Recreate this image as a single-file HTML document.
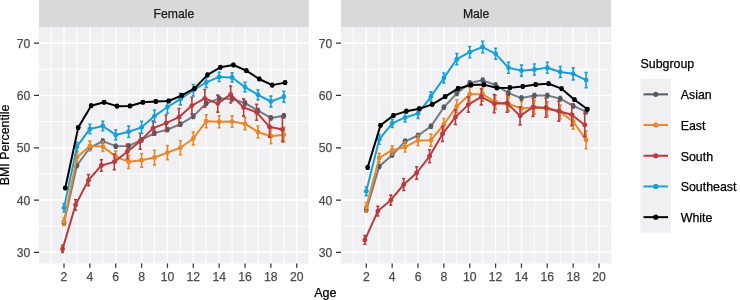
<!DOCTYPE html><html><head><meta charset="utf-8"><title>BMI Percentile by Age</title>
<style>html,body{margin:0;padding:0;background:#fff;}svg{display:block;will-change:transform;}text{font-family:"Liberation Sans",sans-serif;stroke-width:0.25px;}</style></head><body>
<svg width="740" height="300" viewBox="0 0 740 300">
<rect x="0" y="0" width="740" height="300" fill="#ffffff"/>
<rect x="39" y="0" width="269.8" height="27.3" fill="#d9d9d9"/>
<rect x="39" y="27.3" width="269.8" height="236.2" fill="#f0f0f2"/>
<path d="M39 226.16H308.8M39 173.89H308.8M39 121.61H308.8M39 69.34H308.8M51.07 27.3V263.5M76.93 27.3V263.5M102.79 27.3V263.5M128.65 27.3V263.5M154.51 27.3V263.5M180.37 27.3V263.5M206.23 27.3V263.5M232.09 27.3V263.5M257.95 27.3V263.5M283.81 27.3V263.5" stroke="#ffffff" stroke-width="0.9" fill="none"/>
<path d="M39 252.3H308.8M39 200.03H308.8M39 147.75H308.8M39 95.48H308.8M39 43.2H308.8M64 27.3V263.5M89.86 27.3V263.5M115.72 27.3V263.5M141.58 27.3V263.5M167.44 27.3V263.5M193.3 27.3V263.5M219.16 27.3V263.5M245.02 27.3V263.5M270.88 27.3V263.5M296.74 27.3V263.5" stroke="#ffffff" stroke-width="1.4" fill="none"/>
<path d="M64 221.03V225.03M62.4 221.03H65.6M62.4 225.03H65.6M76.93 163.52V167.52M75.33 163.52H78.53M75.33 167.52H78.53M89.86 145.75V149.75M88.26 145.75H91.46M88.26 149.75H91.46M102.79 139.11V143.11M101.19 139.11H104.39M101.19 143.11H104.39M115.72 144.18V148.18M114.12 144.18H117.32M114.12 148.18H117.32M128.65 144.02V148.02M127.05 144.02H130.25M127.05 148.02H130.25M141.58 137.91V141.91M139.98 137.91H143.18M139.98 141.91H143.18M154.51 131.11V135.11M152.91 131.11H156.11M152.91 135.11H156.11M167.44 127.45V131.45M165.84 127.45H169.04M165.84 131.45H169.04M180.37 122.23V126.23M178.77 122.23H181.97M178.77 126.23H181.97M193.3 114.39V118.39M191.7 114.39H194.9M191.7 118.39H194.9M206.23 101.32V105.32M204.63 101.32H207.83M204.63 105.32H207.83M219.16 96.61V100.61M217.56 96.61H220.76M217.56 100.61H220.76M232.09 96.87V100.87M230.49 96.87H233.69M230.49 100.87H233.69M245.02 101.11V105.11M243.42 101.11H246.62M243.42 105.11H246.62M257.95 108.63V112.63M256.35 108.63H259.55M256.35 112.63H259.55M270.88 115.95V119.95M269.28 115.95H272.48M269.28 119.95H272.48M283.81 113.86V117.86M282.21 113.86H285.41M282.21 117.86H285.41" stroke="#505b64" stroke-width="1.6" fill="none"/>
<path d="M64 223.03 L76.93 165.52 L89.86 147.75 L102.79 141.11 L115.72 146.18 L128.65 146.02 L141.58 139.91 L154.51 133.11 L167.44 129.45 L180.37 124.23 L193.3 116.39 L206.23 103.32 L219.16 98.61 L232.09 98.87 L245.02 103.11 L257.95 110.63 L270.88 117.95 L283.81 115.86" stroke="#727c84" stroke-width="2" fill="none" stroke-linejoin="round"/>
<circle cx="64" cy="223.03" r="2.45" fill="#505b64"/>
<circle cx="76.93" cy="165.52" r="2.45" fill="#505b64"/>
<circle cx="89.86" cy="147.75" r="2.45" fill="#505b64"/>
<circle cx="102.79" cy="141.11" r="2.45" fill="#505b64"/>
<circle cx="115.72" cy="146.18" r="2.45" fill="#505b64"/>
<circle cx="128.65" cy="146.02" r="2.45" fill="#505b64"/>
<circle cx="141.58" cy="139.91" r="2.45" fill="#505b64"/>
<circle cx="154.51" cy="133.11" r="2.45" fill="#505b64"/>
<circle cx="167.44" cy="129.45" r="2.45" fill="#505b64"/>
<circle cx="180.37" cy="124.23" r="2.45" fill="#505b64"/>
<circle cx="193.3" cy="116.39" r="2.45" fill="#505b64"/>
<circle cx="206.23" cy="103.32" r="2.45" fill="#505b64"/>
<circle cx="219.16" cy="98.61" r="2.45" fill="#505b64"/>
<circle cx="232.09" cy="98.87" r="2.45" fill="#505b64"/>
<circle cx="245.02" cy="103.11" r="2.45" fill="#505b64"/>
<circle cx="257.95" cy="110.63" r="2.45" fill="#505b64"/>
<circle cx="270.88" cy="117.95" r="2.45" fill="#505b64"/>
<circle cx="283.81" cy="115.86" r="2.45" fill="#505b64"/>
<path d="M64 217.46V225.46M62.4 217.46H65.6M62.4 225.46H65.6M76.93 152.66V161.66M75.33 152.66H78.53M75.33 161.66H78.53M89.86 141.12V150.92M88.26 141.12H91.46M88.26 150.92H91.46M102.79 141.6V151.4M101.19 141.6H104.39M101.19 151.4H104.39M115.72 151.14V162.14M114.12 151.14H117.32M114.12 162.14H117.32M128.65 155.36V168.36M127.05 155.36H130.25M127.05 168.36H130.25M141.58 153.5V167.1M139.98 153.5H143.18M139.98 167.1H143.18M154.51 150.23V164.83M152.91 150.23H156.11M152.91 164.83H156.11M167.44 145.61V159.61M165.84 145.61H169.04M165.84 159.61H169.04M180.37 140.75V154.75M178.77 140.75H181.97M178.77 154.75H181.97M193.3 132V145M191.7 132H194.9M191.7 145H194.9M206.23 114.8V127.8M204.63 114.8H207.83M204.63 127.8H207.83M219.16 115.82V127.82M217.56 115.82H220.76M217.56 127.82H220.76M232.09 115.91V127.31M230.49 115.91H233.69M230.49 127.31H233.69M245.02 117.8V129.6M243.42 117.8H246.62M243.42 129.6H246.62M257.95 126.07V138.07M256.35 126.07H259.55M256.35 138.07H259.55M270.88 128.75V143.75M269.28 128.75H272.48M269.28 143.75H272.48M283.81 127.38V141.98M282.21 127.38H285.41M282.21 141.98H285.41" stroke="#e9872b" stroke-width="1.6" fill="none"/>
<path d="M64 221.46 L76.93 157.16 L89.86 146.02 L102.79 146.5 L115.72 156.64 L128.65 161.86 L141.58 160.3 L154.51 157.53 L167.44 152.61 L180.37 147.75 L193.3 138.5 L206.23 121.3 L219.16 121.82 L232.09 121.61 L245.02 123.7 L257.95 132.07 L270.88 136.25 L283.81 134.68" stroke="#e9872b" stroke-width="2" fill="none" stroke-linejoin="round"/>
<circle cx="64" cy="221.46" r="2.45" fill="#e9872b"/>
<circle cx="76.93" cy="157.16" r="2.45" fill="#e9872b"/>
<circle cx="89.86" cy="146.02" r="2.45" fill="#e9872b"/>
<circle cx="102.79" cy="146.5" r="2.45" fill="#e9872b"/>
<circle cx="115.72" cy="156.64" r="2.45" fill="#e9872b"/>
<circle cx="128.65" cy="161.86" r="2.45" fill="#e9872b"/>
<circle cx="141.58" cy="160.3" r="2.45" fill="#e9872b"/>
<circle cx="154.51" cy="157.53" r="2.45" fill="#e9872b"/>
<circle cx="167.44" cy="152.61" r="2.45" fill="#e9872b"/>
<circle cx="180.37" cy="147.75" r="2.45" fill="#e9872b"/>
<circle cx="193.3" cy="138.5" r="2.45" fill="#e9872b"/>
<circle cx="206.23" cy="121.3" r="2.45" fill="#e9872b"/>
<circle cx="219.16" cy="121.82" r="2.45" fill="#e9872b"/>
<circle cx="232.09" cy="121.61" r="2.45" fill="#e9872b"/>
<circle cx="245.02" cy="123.7" r="2.45" fill="#e9872b"/>
<circle cx="257.95" cy="132.07" r="2.45" fill="#e9872b"/>
<circle cx="270.88" cy="136.25" r="2.45" fill="#e9872b"/>
<circle cx="283.81" cy="134.68" r="2.45" fill="#e9872b"/>
<path d="M62.6 245.4V252.4M61 245.4H64.2M61 252.4H64.2M75.53 199.79V210.19M73.93 199.79H77.13M73.93 210.19H77.13M88.46 174.66V185.66M86.86 174.66H90.06M86.86 185.66H90.06M101.39 159.82V171.22M99.79 159.82H102.99M99.79 171.22H102.99M114.32 154.06V169.66M112.72 154.06H115.92M112.72 169.66H115.92M127.25 144.37V158.97M125.65 144.37H128.85M125.65 158.97H128.85M140.18 133.22V149.22M138.58 133.22H141.78M138.58 149.22H141.78M153.11 121.15V135.15M151.51 121.15H154.71M151.51 135.15H154.71M166.04 114.98V131.38M164.44 114.98H167.64M164.44 131.38H167.64M178.97 108.57V125.77M177.37 108.57H180.57M177.37 125.77H180.57M191.9 97.22V114.02M190.3 97.22H193.5M190.3 114.02H193.5M204.83 89.55V107.15M203.23 89.55H206.43M203.23 107.15H206.43M217.76 95.08V112.08M216.16 95.08H219.36M216.16 112.08H219.36M230.69 85.93V102.93M229.09 85.93H232.29M229.09 102.93H232.29M243.62 98.9V116.1M242.02 98.9H245.22M242.02 116.1H245.22M256.55 104.2V120.2M254.95 104.2H258.15M254.95 120.2H258.15M269.48 116.54V137.14M267.88 116.54H271.08M267.88 137.14H271.08M282.41 117.45V141.45M280.81 117.45H284.01M280.81 141.45H284.01" stroke="#b83c3f" stroke-width="1.6" fill="none"/>
<path d="M62.6 248.9 L75.53 204.99 L88.46 180.16 L101.39 165.52 L114.32 161.86 L127.25 151.67 L140.18 141.22 L153.11 128.15 L166.04 123.18 L178.97 117.17 L191.9 105.62 L204.83 98.35 L217.76 103.58 L230.69 94.43 L243.62 107.5 L256.55 112.2 L269.48 126.84 L282.41 129.45" stroke="#b83c3f" stroke-width="2" fill="none" stroke-linejoin="round"/>
<circle cx="62.6" cy="248.9" r="2.45" fill="#b83c3f"/>
<circle cx="75.53" cy="204.99" r="2.45" fill="#b83c3f"/>
<circle cx="88.46" cy="180.16" r="2.45" fill="#b83c3f"/>
<circle cx="101.39" cy="165.52" r="2.45" fill="#b83c3f"/>
<circle cx="114.32" cy="161.86" r="2.45" fill="#b83c3f"/>
<circle cx="127.25" cy="151.67" r="2.45" fill="#b83c3f"/>
<circle cx="140.18" cy="141.22" r="2.45" fill="#b83c3f"/>
<circle cx="153.11" cy="128.15" r="2.45" fill="#b83c3f"/>
<circle cx="166.04" cy="123.18" r="2.45" fill="#b83c3f"/>
<circle cx="178.97" cy="117.17" r="2.45" fill="#b83c3f"/>
<circle cx="191.9" cy="105.62" r="2.45" fill="#b83c3f"/>
<circle cx="204.83" cy="98.35" r="2.45" fill="#b83c3f"/>
<circle cx="217.76" cy="103.58" r="2.45" fill="#b83c3f"/>
<circle cx="230.69" cy="94.43" r="2.45" fill="#b83c3f"/>
<circle cx="243.62" cy="107.5" r="2.45" fill="#b83c3f"/>
<circle cx="256.55" cy="112.2" r="2.45" fill="#b83c3f"/>
<circle cx="269.48" cy="126.84" r="2.45" fill="#b83c3f"/>
<circle cx="282.41" cy="129.45" r="2.45" fill="#b83c3f"/>
<path d="M64 203.67V212.07M62.4 203.67H65.6M62.4 212.07H65.6M76.93 142.2V151.2M75.33 142.2H78.53M75.33 151.2H78.53M89.86 124.18V133.68M88.26 124.18H91.46M88.26 133.68H91.46M102.79 121.36V130.76M101.19 121.36H104.39M101.19 130.76H104.39M115.72 130.04V139.84M114.12 130.04H117.32M114.12 139.84H117.32M128.65 126.11V137.51M127.05 126.11H130.25M127.05 137.51H130.25M141.58 121.36V133.36M139.98 121.36H143.18M139.98 133.36H143.18M154.51 110.12V122.12M152.91 110.12H156.11M152.91 122.12H156.11M167.44 100.78V113.18M165.84 100.78H169.04M165.84 113.18H169.04M180.37 93.38V104.88M178.77 93.38H181.97M178.77 104.88H181.97M193.3 84.5V96M191.7 84.5H194.9M191.7 96H194.9M206.23 77.41V87.41M204.63 77.41H207.83M204.63 87.41H207.83M219.16 72.32V81.52M217.56 72.32H220.76M217.56 81.52H220.76M232.09 72.84V82.04M230.49 72.84H233.69M230.49 82.04H233.69M245.02 82.21V92.01M243.42 82.21H246.62M243.42 92.01H246.62M257.95 89.7V99.9M256.35 89.7H259.55M256.35 99.9H259.55M270.88 96.09V106.89M269.28 96.09H272.48M269.28 106.89H272.48M283.81 91.28V102.08M282.21 91.28H285.41M282.21 102.08H285.41" stroke="#18a0d5" stroke-width="1.6" fill="none"/>
<path d="M64 207.87 L76.93 146.7 L89.86 128.93 L102.79 126.06 L115.72 134.94 L128.65 131.81 L141.58 127.36 L154.51 116.12 L167.44 106.98 L180.37 99.13 L193.3 90.25 L206.23 82.41 L219.16 76.92 L232.09 77.44 L245.02 87.11 L257.95 94.8 L270.88 101.49 L283.81 96.68" stroke="#18a0d5" stroke-width="2" fill="none" stroke-linejoin="round"/>
<circle cx="64" cy="207.87" r="2.45" fill="#18a0d5"/>
<circle cx="76.93" cy="146.7" r="2.45" fill="#18a0d5"/>
<circle cx="89.86" cy="128.93" r="2.45" fill="#18a0d5"/>
<circle cx="102.79" cy="126.06" r="2.45" fill="#18a0d5"/>
<circle cx="115.72" cy="134.94" r="2.45" fill="#18a0d5"/>
<circle cx="128.65" cy="131.81" r="2.45" fill="#18a0d5"/>
<circle cx="141.58" cy="127.36" r="2.45" fill="#18a0d5"/>
<circle cx="154.51" cy="116.12" r="2.45" fill="#18a0d5"/>
<circle cx="167.44" cy="106.98" r="2.45" fill="#18a0d5"/>
<circle cx="180.37" cy="99.13" r="2.45" fill="#18a0d5"/>
<circle cx="193.3" cy="90.25" r="2.45" fill="#18a0d5"/>
<circle cx="206.23" cy="82.41" r="2.45" fill="#18a0d5"/>
<circle cx="219.16" cy="76.92" r="2.45" fill="#18a0d5"/>
<circle cx="232.09" cy="77.44" r="2.45" fill="#18a0d5"/>
<circle cx="245.02" cy="87.11" r="2.45" fill="#18a0d5"/>
<circle cx="257.95" cy="94.8" r="2.45" fill="#18a0d5"/>
<circle cx="270.88" cy="101.49" r="2.45" fill="#18a0d5"/>
<circle cx="283.81" cy="96.68" r="2.45" fill="#18a0d5"/>
<path d="M65.3 186.5V189.5M63.7 186.5H66.9M63.7 189.5H66.9M78.23 126.12V129.12M76.63 126.12H79.83M76.63 129.12H79.83M91.16 104.22V107.22M89.56 104.22H92.76M89.56 107.22H92.76M104.09 100.77V103.77M102.49 100.77H105.69M102.49 103.77H105.69M117.02 104.64V107.64M115.42 104.64H118.62M115.42 107.64H118.62M129.95 104.43V107.43M128.35 104.43H131.55M128.35 107.43H131.55M142.88 100.77V103.77M141.28 100.77H144.48M141.28 103.77H144.48M155.81 99.99V102.99M154.21 99.99H157.41M154.21 102.99H157.41M168.74 99.46V102.46M167.14 99.46H170.34M167.14 102.46H170.34M181.67 93.98V96.98M180.07 93.98H183.27M180.07 96.98H183.27M194.6 86.92V89.92M193 86.92H196.2M193 89.92H196.2M207.53 73.33V76.33M205.93 73.33H209.13M205.93 76.33H209.13M220.46 65.75V68.75M218.86 65.75H222.06M218.86 68.75H222.06M233.39 63.5V66.5M231.79 63.5H234.99M231.79 66.5H234.99M246.32 69.2V72.2M244.72 69.2H247.92M244.72 72.2H247.92M259.25 77.51V80.51M257.65 77.51H260.85M257.65 80.51H260.85M272.18 83.62V86.62M270.58 83.62H273.78M270.58 86.62H273.78M285.11 81.12V84.12M283.51 81.12H286.71M283.51 84.12H286.71" stroke="#000000" stroke-width="1.6" fill="none"/>
<path d="M65.3 188 L78.23 127.62 L91.16 105.72 L104.09 102.27 L117.02 106.14 L129.95 105.93 L142.88 102.27 L155.81 101.49 L168.74 100.96 L181.67 95.48 L194.6 88.42 L207.53 74.83 L220.46 67.25 L233.39 65 L246.32 70.7 L259.25 79.01 L272.18 85.12 L285.11 82.62" stroke="#000000" stroke-width="2" fill="none" stroke-linejoin="round"/>
<circle cx="65.3" cy="188" r="2.45" fill="#000000"/>
<circle cx="78.23" cy="127.62" r="2.45" fill="#000000"/>
<circle cx="91.16" cy="105.72" r="2.45" fill="#000000"/>
<circle cx="104.09" cy="102.27" r="2.45" fill="#000000"/>
<circle cx="117.02" cy="106.14" r="2.45" fill="#000000"/>
<circle cx="129.95" cy="105.93" r="2.45" fill="#000000"/>
<circle cx="142.88" cy="102.27" r="2.45" fill="#000000"/>
<circle cx="155.81" cy="101.49" r="2.45" fill="#000000"/>
<circle cx="168.74" cy="100.96" r="2.45" fill="#000000"/>
<circle cx="181.67" cy="95.48" r="2.45" fill="#000000"/>
<circle cx="194.6" cy="88.42" r="2.45" fill="#000000"/>
<circle cx="207.53" cy="74.83" r="2.45" fill="#000000"/>
<circle cx="220.46" cy="67.25" r="2.45" fill="#000000"/>
<circle cx="233.39" cy="65" r="2.45" fill="#000000"/>
<circle cx="246.32" cy="70.7" r="2.45" fill="#000000"/>
<circle cx="259.25" cy="79.01" r="2.45" fill="#000000"/>
<circle cx="272.18" cy="85.12" r="2.45" fill="#000000"/>
<circle cx="285.11" cy="82.62" r="2.45" fill="#000000"/>
<text x="173.9" y="18" font-size="12.2" fill="#1a1a1a" stroke="#1a1a1a" text-anchor="middle">Female</text>
<text x="30.3" y="256.8" font-size="12.2" fill="#4d4d4d" stroke="#4d4d4d" text-anchor="end">30</text>
<text x="30.3" y="204.53" font-size="12.2" fill="#4d4d4d" stroke="#4d4d4d" text-anchor="end">40</text>
<text x="30.3" y="152.25" font-size="12.2" fill="#4d4d4d" stroke="#4d4d4d" text-anchor="end">50</text>
<text x="30.3" y="99.98" font-size="12.2" fill="#4d4d4d" stroke="#4d4d4d" text-anchor="end">60</text>
<text x="30.3" y="47.7" font-size="12.2" fill="#4d4d4d" stroke="#4d4d4d" text-anchor="end">70</text>
<text x="64" y="280.7" font-size="12.2" fill="#4d4d4d" stroke="#4d4d4d" text-anchor="middle">2</text>
<text x="89.86" y="280.7" font-size="12.2" fill="#4d4d4d" stroke="#4d4d4d" text-anchor="middle">4</text>
<text x="115.72" y="280.7" font-size="12.2" fill="#4d4d4d" stroke="#4d4d4d" text-anchor="middle">6</text>
<text x="141.58" y="280.7" font-size="12.2" fill="#4d4d4d" stroke="#4d4d4d" text-anchor="middle">8</text>
<text x="167.44" y="280.7" font-size="12.2" fill="#4d4d4d" stroke="#4d4d4d" text-anchor="middle">10</text>
<text x="193.3" y="280.7" font-size="12.2" fill="#4d4d4d" stroke="#4d4d4d" text-anchor="middle">12</text>
<text x="219.16" y="280.7" font-size="12.2" fill="#4d4d4d" stroke="#4d4d4d" text-anchor="middle">14</text>
<text x="245.02" y="280.7" font-size="12.2" fill="#4d4d4d" stroke="#4d4d4d" text-anchor="middle">16</text>
<text x="270.88" y="280.7" font-size="12.2" fill="#4d4d4d" stroke="#4d4d4d" text-anchor="middle">18</text>
<text x="296.74" y="280.7" font-size="12.2" fill="#4d4d4d" stroke="#4d4d4d" text-anchor="middle">20</text>
<path d="M34 252.3H39M34 200.03H39M34 147.75H39M34 95.48H39M34 43.2H39M64 263.5V267.7M89.86 263.5V267.7M115.72 263.5V267.7M141.58 263.5V267.7M167.44 263.5V267.7M193.3 263.5V267.7M219.16 263.5V267.7M245.02 263.5V267.7M270.88 263.5V267.7M296.74 263.5V267.7" stroke="#333333" stroke-width="1.25" fill="none"/>
<rect x="341" y="0" width="270.2" height="27.3" fill="#d9d9d9"/>
<rect x="341" y="27.3" width="270.2" height="236.2" fill="#f0f0f2"/>
<path d="M341 226.16H611.2M341 173.89H611.2M341 121.61H611.2M341 69.34H611.2M353.37 27.3V263.5M379.23 27.3V263.5M405.09 27.3V263.5M430.95 27.3V263.5M456.81 27.3V263.5M482.67 27.3V263.5M508.53 27.3V263.5M534.39 27.3V263.5M560.25 27.3V263.5M586.11 27.3V263.5" stroke="#ffffff" stroke-width="0.9" fill="none"/>
<path d="M341 252.3H611.2M341 200.03H611.2M341 147.75H611.2M341 95.48H611.2M341 43.2H611.2M366.3 27.3V263.5M392.16 27.3V263.5M418.02 27.3V263.5M443.88 27.3V263.5M469.74 27.3V263.5M495.6 27.3V263.5M521.46 27.3V263.5M547.32 27.3V263.5M573.18 27.3V263.5M599.04 27.3V263.5" stroke="#ffffff" stroke-width="1.4" fill="none"/>
<path d="M366.3 207.96V211.96M364.7 207.96H367.9M364.7 211.96H367.9M379.23 164.57V168.57M377.63 164.57H380.83M377.63 168.57H380.83M392.16 153.07V157.07M390.56 153.07H393.76M390.56 157.07H393.76M405.09 139.32V143.32M403.49 139.32H406.69M403.49 143.32H406.69M418.02 133.47V137.47M416.42 133.47H419.62M416.42 137.47H419.62M430.95 124.32V128.32M429.35 124.32H432.55M429.35 128.32H432.55M443.88 105.29V109.29M442.28 105.29H445.48M442.28 109.29H445.48M456.81 91.38V95.38M455.21 91.38H458.41M455.21 95.38H458.41M469.74 80.93V84.93M468.14 80.93H471.34M468.14 84.93H471.34M482.67 78.32V82.32M481.07 78.32H484.27M481.07 82.32H484.27M495.6 83.02V87.02M494 83.02H497.2M494 87.02H497.2M508.53 91.12V95.12M506.93 91.12H510.13M506.93 95.12H510.13M521.46 96.09V100.09M519.86 96.09H523.06M519.86 100.09H523.06M534.39 93.48V97.48M532.79 93.48H535.99M532.79 97.48H535.99M547.32 93.48V97.48M545.72 93.48H548.92M545.72 97.48H548.92M560.25 96.61V100.61M558.65 96.61H561.85M558.65 100.61H561.85M573.18 103.93V107.93M571.58 103.93H574.78M571.58 107.93H574.78M586.11 109.68V113.68M584.51 109.68H587.71M584.51 113.68H587.71" stroke="#505b64" stroke-width="1.6" fill="none"/>
<path d="M366.3 209.96 L379.23 166.57 L392.16 155.07 L405.09 141.32 L418.02 135.47 L430.95 126.32 L443.88 107.29 L456.81 93.38 L469.74 82.93 L482.67 80.32 L495.6 85.02 L508.53 93.12 L521.46 98.09 L534.39 95.48 L547.32 95.48 L560.25 98.61 L573.18 105.93 L586.11 111.68" stroke="#727c84" stroke-width="2" fill="none" stroke-linejoin="round"/>
<circle cx="366.3" cy="209.96" r="2.45" fill="#505b64"/>
<circle cx="379.23" cy="166.57" r="2.45" fill="#505b64"/>
<circle cx="392.16" cy="155.07" r="2.45" fill="#505b64"/>
<circle cx="405.09" cy="141.32" r="2.45" fill="#505b64"/>
<circle cx="418.02" cy="135.47" r="2.45" fill="#505b64"/>
<circle cx="430.95" cy="126.32" r="2.45" fill="#505b64"/>
<circle cx="443.88" cy="107.29" r="2.45" fill="#505b64"/>
<circle cx="456.81" cy="93.38" r="2.45" fill="#505b64"/>
<circle cx="469.74" cy="82.93" r="2.45" fill="#505b64"/>
<circle cx="482.67" cy="80.32" r="2.45" fill="#505b64"/>
<circle cx="495.6" cy="85.02" r="2.45" fill="#505b64"/>
<circle cx="508.53" cy="93.12" r="2.45" fill="#505b64"/>
<circle cx="521.46" cy="98.09" r="2.45" fill="#505b64"/>
<circle cx="534.39" cy="95.48" r="2.45" fill="#505b64"/>
<circle cx="547.32" cy="95.48" r="2.45" fill="#505b64"/>
<circle cx="560.25" cy="98.61" r="2.45" fill="#505b64"/>
<circle cx="573.18" cy="105.93" r="2.45" fill="#505b64"/>
<circle cx="586.11" cy="111.68" r="2.45" fill="#505b64"/>
<path d="M366.3 202.48V211.68M364.7 202.48H367.9M364.7 211.68H367.9M379.23 153.39V162.39M377.63 153.39H380.83M377.63 162.39H380.83M392.16 145.91V154.51M390.56 145.91H393.76M390.56 154.51H393.76M405.09 141.81V152.01M403.49 141.81H406.69M403.49 152.01H406.69M418.02 135.33V145.53M416.42 135.33H419.62M416.42 145.53H419.62M430.95 134.17V146.17M429.35 134.17H432.55M429.35 146.17H432.55M443.88 118.49V130.49M442.28 118.49H445.48M442.28 130.49H445.48M456.81 99.69V112.69M455.21 99.69H458.41M455.21 112.69H458.41M469.74 87.27V101.07M468.14 87.27H471.34M468.14 101.07H471.34M482.67 87.07V101.27M481.07 87.07H484.27M481.07 101.27H484.27M495.6 95.27V109.27M494 95.27H497.2M494 109.27H497.2M508.53 96.84V110.84M506.93 96.84H510.13M506.93 110.84H510.13M521.46 101.54V115.54M519.86 101.54H523.06M519.86 115.54H523.06M534.39 100.24V114.24M532.79 100.24H535.99M532.79 114.24H535.99M547.32 101.81V115.81M545.72 101.81H548.92M545.72 115.81H548.92M560.25 104.94V118.94M558.65 104.94H561.85M558.65 118.94H561.85M573.18 114.01V129.21M571.58 114.01H574.78M571.58 129.21H574.78M586.11 131.01V148.81M584.51 131.01H587.71M584.51 148.81H587.71" stroke="#e9872b" stroke-width="1.6" fill="none"/>
<path d="M366.3 207.08 L379.23 157.89 L392.16 150.21 L405.09 146.91 L418.02 140.43 L430.95 140.17 L443.88 124.49 L456.81 106.19 L469.74 94.17 L482.67 94.17 L495.6 102.27 L508.53 103.84 L521.46 108.54 L534.39 107.24 L547.32 108.81 L560.25 111.94 L573.18 121.61 L586.11 139.91" stroke="#e9872b" stroke-width="2" fill="none" stroke-linejoin="round"/>
<circle cx="366.3" cy="207.08" r="2.45" fill="#e9872b"/>
<circle cx="379.23" cy="157.89" r="2.45" fill="#e9872b"/>
<circle cx="392.16" cy="150.21" r="2.45" fill="#e9872b"/>
<circle cx="405.09" cy="146.91" r="2.45" fill="#e9872b"/>
<circle cx="418.02" cy="140.43" r="2.45" fill="#e9872b"/>
<circle cx="430.95" cy="140.17" r="2.45" fill="#e9872b"/>
<circle cx="443.88" cy="124.49" r="2.45" fill="#e9872b"/>
<circle cx="456.81" cy="106.19" r="2.45" fill="#e9872b"/>
<circle cx="469.74" cy="94.17" r="2.45" fill="#e9872b"/>
<circle cx="482.67" cy="94.17" r="2.45" fill="#e9872b"/>
<circle cx="495.6" cy="102.27" r="2.45" fill="#e9872b"/>
<circle cx="508.53" cy="103.84" r="2.45" fill="#e9872b"/>
<circle cx="521.46" cy="108.54" r="2.45" fill="#e9872b"/>
<circle cx="534.39" cy="107.24" r="2.45" fill="#e9872b"/>
<circle cx="547.32" cy="108.81" r="2.45" fill="#e9872b"/>
<circle cx="560.25" cy="111.94" r="2.45" fill="#e9872b"/>
<circle cx="573.18" cy="121.61" r="2.45" fill="#e9872b"/>
<circle cx="586.11" cy="139.91" r="2.45" fill="#e9872b"/>
<path d="M364.9 235.61V244.21M363.3 235.61H366.5M363.3 244.21H366.5M377.83 206.21V216.01M376.23 206.21H379.43M376.23 216.01H379.43M390.76 195.08V205.28M389.16 195.08H392.36M389.16 205.28H392.36M403.69 178.5V190.5M402.09 178.5H405.29M402.09 190.5H405.29M416.62 166.8V179.2M415.02 166.8H418.22M415.02 179.2H418.22M429.55 149.82V162.82M427.95 149.82H431.15M427.95 162.82H431.15M442.48 126.4V141.4M440.88 126.4H444.08M440.88 141.4H444.08M455.41 109.72V124.52M453.81 109.72H457.01M453.81 124.52H457.01M468.34 97.12V112.12M466.74 97.12H469.94M466.74 112.12H469.94M481.27 88.68V104.88M479.67 88.68H482.87M479.67 104.88H482.87M494.2 94.58V112.58M492.6 94.58H495.8M492.6 112.58H495.8M507.13 94.32V112.32M505.53 94.32H508.73M505.53 112.32H508.73M520.06 106.86V124.86M518.46 106.86H521.66M518.46 124.86H521.66M532.99 97.98V116.38M531.39 97.98H534.59M531.39 116.38H534.59M545.92 98.21V117.21M544.32 98.21H547.52M544.32 117.21H547.52M558.85 101.16V121.16M557.25 101.16H560.45M557.25 121.16H560.45M571.78 104.02V125.62M570.18 104.02H573.38M570.18 125.62H573.38M584.71 113.41V136.61M583.11 113.41H586.31M583.11 136.61H586.31" stroke="#b83c3f" stroke-width="1.6" fill="none"/>
<path d="M364.9 239.91 L377.83 211.11 L390.76 200.18 L403.69 184.5 L416.62 173 L429.55 156.32 L442.48 133.9 L455.41 117.12 L468.34 104.62 L481.27 96.78 L494.2 103.58 L507.13 103.32 L520.06 115.86 L532.99 107.18 L545.92 107.71 L558.85 111.16 L571.78 114.82 L584.71 125.01" stroke="#b83c3f" stroke-width="2" fill="none" stroke-linejoin="round"/>
<circle cx="364.9" cy="239.91" r="2.45" fill="#b83c3f"/>
<circle cx="377.83" cy="211.11" r="2.45" fill="#b83c3f"/>
<circle cx="390.76" cy="200.18" r="2.45" fill="#b83c3f"/>
<circle cx="403.69" cy="184.5" r="2.45" fill="#b83c3f"/>
<circle cx="416.62" cy="173" r="2.45" fill="#b83c3f"/>
<circle cx="429.55" cy="156.32" r="2.45" fill="#b83c3f"/>
<circle cx="442.48" cy="133.9" r="2.45" fill="#b83c3f"/>
<circle cx="455.41" cy="117.12" r="2.45" fill="#b83c3f"/>
<circle cx="468.34" cy="104.62" r="2.45" fill="#b83c3f"/>
<circle cx="481.27" cy="96.78" r="2.45" fill="#b83c3f"/>
<circle cx="494.2" cy="103.58" r="2.45" fill="#b83c3f"/>
<circle cx="507.13" cy="103.32" r="2.45" fill="#b83c3f"/>
<circle cx="520.06" cy="115.86" r="2.45" fill="#b83c3f"/>
<circle cx="532.99" cy="107.18" r="2.45" fill="#b83c3f"/>
<circle cx="545.92" cy="107.71" r="2.45" fill="#b83c3f"/>
<circle cx="558.85" cy="111.16" r="2.45" fill="#b83c3f"/>
<circle cx="571.78" cy="114.82" r="2.45" fill="#b83c3f"/>
<circle cx="584.71" cy="125.01" r="2.45" fill="#b83c3f"/>
<path d="M366.3 187V195.6M364.7 187H367.9M364.7 195.6H367.9M379.23 134.49V144.29M377.63 134.49H380.83M377.63 144.29H380.83M392.16 119.39V127.39M390.56 119.39H393.76M390.56 127.39H393.76M405.09 112.93V121.93M403.49 112.93H406.69M403.49 121.93H406.69M418.02 108.61V118.41M416.42 108.61H419.62M416.42 118.41H419.62M430.95 91.92V101.12M429.35 91.92H432.55M429.35 101.12H432.55M443.88 73.06V82.86M442.28 73.06H445.48M442.28 82.86H445.48M456.81 53.49V64.79M455.21 53.49H458.41M455.21 64.79H458.41M469.74 46.44V57.74M468.14 46.44H471.34M468.14 57.74H471.34M482.67 41.32V52.72M481.07 41.32H484.27M481.07 52.72H484.27M495.6 48.31V59.31M494 48.31H497.2M494 59.31H497.2M508.53 62.27V73.27M506.93 62.27H510.13M506.93 73.27H510.13M521.46 65.14V76.14M519.86 65.14H523.06M519.86 76.14H523.06M534.39 63.94V74.94M532.79 63.94H535.99M532.79 74.94H535.99M547.32 62.27V73.27M545.72 62.27H548.92M545.72 73.27H548.92M560.25 66.55V77.35M558.65 66.55H561.85M558.65 77.35H561.85M573.18 67.68V79.88M571.58 67.68H574.78M571.58 79.88H574.78M586.11 72.61V87.61M584.51 72.61H587.71M584.51 87.61H587.71" stroke="#18a0d5" stroke-width="1.6" fill="none"/>
<path d="M366.3 191.3 L379.23 139.39 L392.16 123.39 L405.09 117.43 L418.02 113.51 L430.95 96.52 L443.88 77.96 L456.81 59.14 L469.74 52.09 L482.67 47.02 L495.6 53.81 L508.53 67.77 L521.46 70.64 L534.39 69.44 L547.32 67.77 L560.25 71.95 L573.18 73.78 L586.11 80.11" stroke="#18a0d5" stroke-width="2" fill="none" stroke-linejoin="round"/>
<circle cx="366.3" cy="191.3" r="2.45" fill="#18a0d5"/>
<circle cx="379.23" cy="139.39" r="2.45" fill="#18a0d5"/>
<circle cx="392.16" cy="123.39" r="2.45" fill="#18a0d5"/>
<circle cx="405.09" cy="117.43" r="2.45" fill="#18a0d5"/>
<circle cx="418.02" cy="113.51" r="2.45" fill="#18a0d5"/>
<circle cx="430.95" cy="96.52" r="2.45" fill="#18a0d5"/>
<circle cx="443.88" cy="77.96" r="2.45" fill="#18a0d5"/>
<circle cx="456.81" cy="59.14" r="2.45" fill="#18a0d5"/>
<circle cx="469.74" cy="52.09" r="2.45" fill="#18a0d5"/>
<circle cx="482.67" cy="47.02" r="2.45" fill="#18a0d5"/>
<circle cx="495.6" cy="53.81" r="2.45" fill="#18a0d5"/>
<circle cx="508.53" cy="67.77" r="2.45" fill="#18a0d5"/>
<circle cx="521.46" cy="70.64" r="2.45" fill="#18a0d5"/>
<circle cx="534.39" cy="69.44" r="2.45" fill="#18a0d5"/>
<circle cx="547.32" cy="67.77" r="2.45" fill="#18a0d5"/>
<circle cx="560.25" cy="71.95" r="2.45" fill="#18a0d5"/>
<circle cx="573.18" cy="73.78" r="2.45" fill="#18a0d5"/>
<circle cx="586.11" cy="80.11" r="2.45" fill="#18a0d5"/>
<path d="M367.6 166.11V169.11M366 166.11H369.2M366 169.11H369.2M380.53 123.72V126.72M378.93 123.72H382.13M378.93 126.72H382.13M393.46 113.89V116.89M391.86 113.89H395.06M391.86 116.89H395.06M406.39 109.66V112.66M404.79 109.66H407.99M404.79 112.66H407.99M419.32 107.2V110.2M417.72 107.2H420.92M417.72 110.2H420.92M432.25 102.86V105.86M430.65 102.86H433.85M430.65 105.86H433.85M445.18 95.13V98.13M443.58 95.13H446.78M443.58 98.13H446.78M458.11 86.92V89.92M456.51 86.92H459.71M456.51 89.92H459.71M471.04 83.52V86.52M469.44 83.52H472.64M469.44 86.52H472.64M483.97 83.1V86.1M482.37 83.1H485.57M482.37 86.1H485.57M496.9 86.45V89.45M495.3 86.45H498.5M495.3 89.45H498.5M509.83 86.13V89.13M508.23 86.13H511.43M508.23 89.13H511.43M522.76 84.98V87.98M521.16 84.98H524.36M521.16 87.98H524.36M535.69 83.1V86.1M534.09 83.1H537.29M534.09 86.1H537.29M548.62 82.27V85.27M547.02 82.27H550.22M547.02 85.27H550.22M561.55 87.18V90.18M559.95 87.18H563.15M559.95 90.18H563.15M574.48 98.26V101.26M572.88 98.26H576.08M572.88 101.26H576.08M587.41 107.72V110.72M585.81 107.72H589.01M585.81 110.72H589.01" stroke="#000000" stroke-width="1.6" fill="none"/>
<path d="M367.6 167.61 L380.53 125.22 L393.46 115.39 L406.39 111.16 L419.32 108.7 L432.25 104.36 L445.18 96.63 L458.11 88.42 L471.04 85.02 L483.97 84.6 L496.9 87.95 L509.83 87.63 L522.76 86.48 L535.69 84.6 L548.62 83.77 L561.55 88.68 L574.48 99.76 L587.41 109.22" stroke="#000000" stroke-width="2" fill="none" stroke-linejoin="round"/>
<circle cx="367.6" cy="167.61" r="2.45" fill="#000000"/>
<circle cx="380.53" cy="125.22" r="2.45" fill="#000000"/>
<circle cx="393.46" cy="115.39" r="2.45" fill="#000000"/>
<circle cx="406.39" cy="111.16" r="2.45" fill="#000000"/>
<circle cx="419.32" cy="108.7" r="2.45" fill="#000000"/>
<circle cx="432.25" cy="104.36" r="2.45" fill="#000000"/>
<circle cx="445.18" cy="96.63" r="2.45" fill="#000000"/>
<circle cx="458.11" cy="88.42" r="2.45" fill="#000000"/>
<circle cx="471.04" cy="85.02" r="2.45" fill="#000000"/>
<circle cx="483.97" cy="84.6" r="2.45" fill="#000000"/>
<circle cx="496.9" cy="87.95" r="2.45" fill="#000000"/>
<circle cx="509.83" cy="87.63" r="2.45" fill="#000000"/>
<circle cx="522.76" cy="86.48" r="2.45" fill="#000000"/>
<circle cx="535.69" cy="84.6" r="2.45" fill="#000000"/>
<circle cx="548.62" cy="83.77" r="2.45" fill="#000000"/>
<circle cx="561.55" cy="88.68" r="2.45" fill="#000000"/>
<circle cx="574.48" cy="99.76" r="2.45" fill="#000000"/>
<circle cx="587.41" cy="109.22" r="2.45" fill="#000000"/>
<text x="476.1" y="18" font-size="12.2" fill="#1a1a1a" stroke="#1a1a1a" text-anchor="middle">Male</text>
<text x="332.3" y="256.8" font-size="12.2" fill="#4d4d4d" stroke="#4d4d4d" text-anchor="end">30</text>
<text x="332.3" y="204.53" font-size="12.2" fill="#4d4d4d" stroke="#4d4d4d" text-anchor="end">40</text>
<text x="332.3" y="152.25" font-size="12.2" fill="#4d4d4d" stroke="#4d4d4d" text-anchor="end">50</text>
<text x="332.3" y="99.98" font-size="12.2" fill="#4d4d4d" stroke="#4d4d4d" text-anchor="end">60</text>
<text x="332.3" y="47.7" font-size="12.2" fill="#4d4d4d" stroke="#4d4d4d" text-anchor="end">70</text>
<text x="366.3" y="280.7" font-size="12.2" fill="#4d4d4d" stroke="#4d4d4d" text-anchor="middle">2</text>
<text x="392.16" y="280.7" font-size="12.2" fill="#4d4d4d" stroke="#4d4d4d" text-anchor="middle">4</text>
<text x="418.02" y="280.7" font-size="12.2" fill="#4d4d4d" stroke="#4d4d4d" text-anchor="middle">6</text>
<text x="443.88" y="280.7" font-size="12.2" fill="#4d4d4d" stroke="#4d4d4d" text-anchor="middle">8</text>
<text x="469.74" y="280.7" font-size="12.2" fill="#4d4d4d" stroke="#4d4d4d" text-anchor="middle">10</text>
<text x="495.6" y="280.7" font-size="12.2" fill="#4d4d4d" stroke="#4d4d4d" text-anchor="middle">12</text>
<text x="521.46" y="280.7" font-size="12.2" fill="#4d4d4d" stroke="#4d4d4d" text-anchor="middle">14</text>
<text x="547.32" y="280.7" font-size="12.2" fill="#4d4d4d" stroke="#4d4d4d" text-anchor="middle">16</text>
<text x="573.18" y="280.7" font-size="12.2" fill="#4d4d4d" stroke="#4d4d4d" text-anchor="middle">18</text>
<text x="599.04" y="280.7" font-size="12.2" fill="#4d4d4d" stroke="#4d4d4d" text-anchor="middle">20</text>
<path d="M336 252.3H341M336 200.03H341M336 147.75H341M336 95.48H341M336 43.2H341M366.3 263.5V267.7M392.16 263.5V267.7M418.02 263.5V267.7M443.88 263.5V267.7M469.74 263.5V267.7M495.6 263.5V267.7M521.46 263.5V267.7M547.32 263.5V267.7M573.18 263.5V267.7M599.04 263.5V267.7" stroke="#333333" stroke-width="1.25" fill="none"/>
<text x="325.3" y="296.9" font-size="12.5" fill="#000" stroke="#000" text-anchor="middle">Age</text>
<text transform="translate(9.3 145) rotate(-90)" x="0" y="0" font-size="12.4" fill="#000" stroke="#000" text-anchor="middle">BMI Percentile</text>
<text x="640.5" y="68.3" font-size="12.4" fill="#000" stroke="#000">Subgroup</text>
<rect x="640.4" y="79" width="30.7" height="153.5" fill="#f0f0f2"/>
<path d="M643.5 94.35H668" stroke="#505b64" stroke-width="2" fill="none"/>
<circle cx="655.75" cy="94.35" r="2.6" fill="#505b64"/>
<text x="680.7" y="99.15" font-size="12.4" fill="#000" stroke="#000">Asian</text>
<path d="M643.5 125.05H668" stroke="#e9872b" stroke-width="2" fill="none"/>
<circle cx="655.75" cy="125.05" r="2.6" fill="#e9872b"/>
<text x="680.7" y="129.85" font-size="12.4" fill="#000" stroke="#000">East</text>
<path d="M643.5 155.75H668" stroke="#b83c3f" stroke-width="2" fill="none"/>
<circle cx="655.75" cy="155.75" r="2.6" fill="#b83c3f"/>
<text x="680.7" y="160.55" font-size="12.4" fill="#000" stroke="#000">South</text>
<path d="M643.5 186.45H668" stroke="#18a0d5" stroke-width="2" fill="none"/>
<circle cx="655.75" cy="186.45" r="2.6" fill="#18a0d5"/>
<text x="680.7" y="191.25" font-size="12.4" fill="#000" stroke="#000">Southeast</text>
<path d="M643.5 217.15H668" stroke="#000000" stroke-width="2" fill="none"/>
<circle cx="655.75" cy="217.15" r="2.6" fill="#000000"/>
<text x="680.7" y="221.95" font-size="12.4" fill="#000" stroke="#000">White</text>
</svg></body></html>
